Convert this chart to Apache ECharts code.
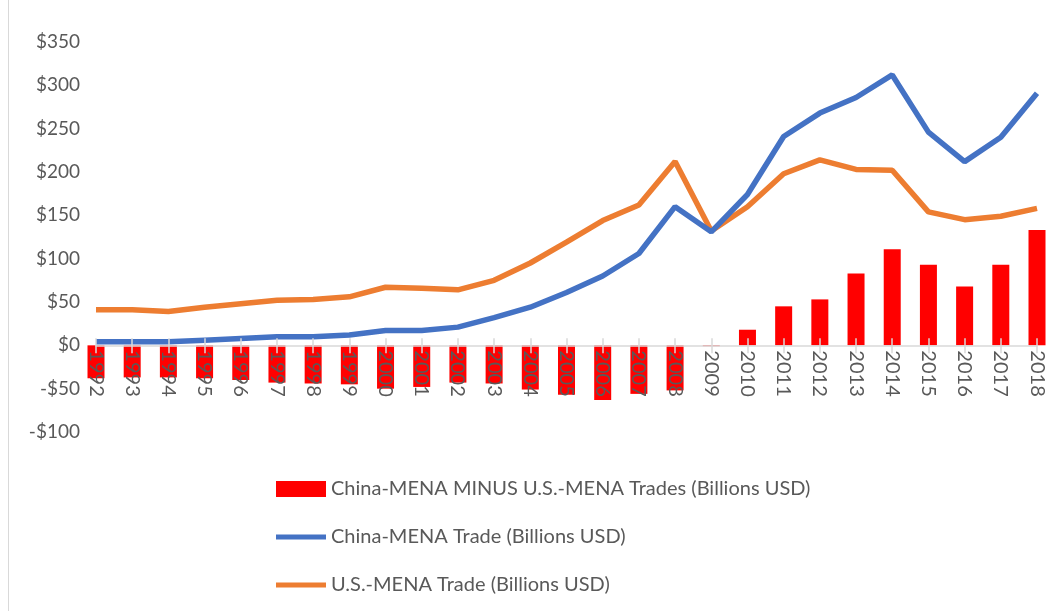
<!DOCTYPE html>
<html>
<head>
<meta charset="utf-8">
<script src="https://cdn.jsdelivr.net/npm/echarts@6/dist/echarts.min.js"></script>
<style>
html,body{margin:0;padding:0;background:#fff;}
#frame{position:absolute;left:8px;top:0;width:1048px;height:611px;border-left:1px solid #d9d9d9;}
#chart{width:1056px;height:611px;position:absolute;left:0;top:0;}
</style>
</head>
<body>
<div id="frame"></div>
<div id="chart"></div>
<script>
const years = ['1992','1993','1994','1995','1996','1997','1998','1999','2000','2001','2002','2003','2004','2005','2006','2007','2008','2009','2010','2011','2012','2013','2014','2015','2016','2017','2018'];
const chinaMena = [4,4,4,6,8,10,10,12,17,17,21,32,44,61,80,106,160,131,174,241,268,286,312,246,212,240,291];
const usMena = [41,41,39,44,48,52,53,56,67,66,64,75,95,119,144,162,212,132,160,198,214,203,202,154,145,149,158];
const difference = [-38,-37,-37,-38,-40,-43,-44,-45,-50,-48,-43,-44,-51,-57,-63,-56,-52,-1,18,45,53,83,111,93,68,93,133];
const yTicks = { min: -100, max: 350, interval: 50 };
const seriesNames = ['China-MENA MINUS U.S.-MENA Trades (Billions USD)', 'China-MENA Trade (Billions USD)', 'U.S.-MENA Trade (Billions USD)'];

const FONT = 'Lato';
const GRID_TOP = 42, GRID_H = 390;
// distance from the grid bottom up to the zero line
const zeroOffset = -GRID_H * (0 - yTicks.min) / (yTicks.max - yTicks.min);
const lineIcon = 'path://M0,0L100,0L100,10L0,10Z';

const chart = echarts.init(document.getElementById('chart'));
chart.setOption({
  animation: false,
  textStyle: { fontFamily: FONT },
  grid: { left: 96, right: 19, top: GRID_TOP, height: GRID_H, containLabel: false },
  legend: {
    orient: 'vertical',
    left: 276,
    top: 479,
    padding: 0,
    itemWidth: 50,
    itemHeight: 16,
    itemGap: 28,
    textStyle: { fontFamily: FONT, fontSize: 20, color: '#595959' },
    data: [
      { name: seriesNames[0], icon: 'rect' },
      { name: seriesNames[1], icon: lineIcon },
      { name: seriesNames[2], icon: lineIcon }
    ]
  },
  xAxis: [
    {
      type: 'category',
      data: years,
      boundaryGap: false,
      position: 'bottom',
      offset: zeroOffset,
      z: 10,
      axisLine: { onZero: false, lineStyle: { color: '#d9d9d9', width: 1.5 } },
      axisTick: { show: true, alignWithLabel: true, length: 8, lineStyle: { color: '#d9d9d9', width: 1.5 } },
      axisLabel: { rotate: -90, fontFamily: FONT, fontSize: 20, color: '#595959', margin: 5, interval: 0 },
      splitLine: { show: false }
    },
    {
      type: 'category',
      data: years,
      boundaryGap: false,
      position: 'bottom',
      offset: zeroOffset,
      z: 10,
      axisLine: { show: false, onZero: false },
      axisTick: { show: true, inside: true, length: 7, lineStyle: { color: '#d9d9d9', width: 1.5 } },
      axisLabel: { show: false },
      splitLine: { show: false }
    }
  ],
  yAxis: {
    type: 'value',
    min: yTicks.min,
    max: yTicks.max,
    interval: yTicks.interval,
    axisLine: { show: false },
    axisTick: { show: false },
    splitLine: { show: false },
    axisLabel: {
      fontFamily: FONT, fontSize: 19, color: '#595959', margin: 16,
      formatter: v => (v < 0 ? '-$' + Math.abs(v) : '$' + v)
    }
  },
  series: [
    {
      name: seriesNames[0],
      type: 'bar',
      data: difference,
      barWidth: 17,
      itemStyle: { color: '#ff0000' },
      z: 1
    },
    {
      name: seriesNames[1],
      type: 'line',
      data: chinaMena,
      symbol: 'none',
      lineStyle: { color: '#4472c4', width: 5.5 },
      itemStyle: { color: '#4472c4' },
      z: 3
    },
    {
      name: seriesNames[2],
      type: 'line',
      data: usMena,
      symbol: 'none',
      lineStyle: { color: '#ed7d31', width: 5.5 },
      itemStyle: { color: '#ed7d31' },
      z: 2
    }
  ]
});
</script>
</body>
</html>
